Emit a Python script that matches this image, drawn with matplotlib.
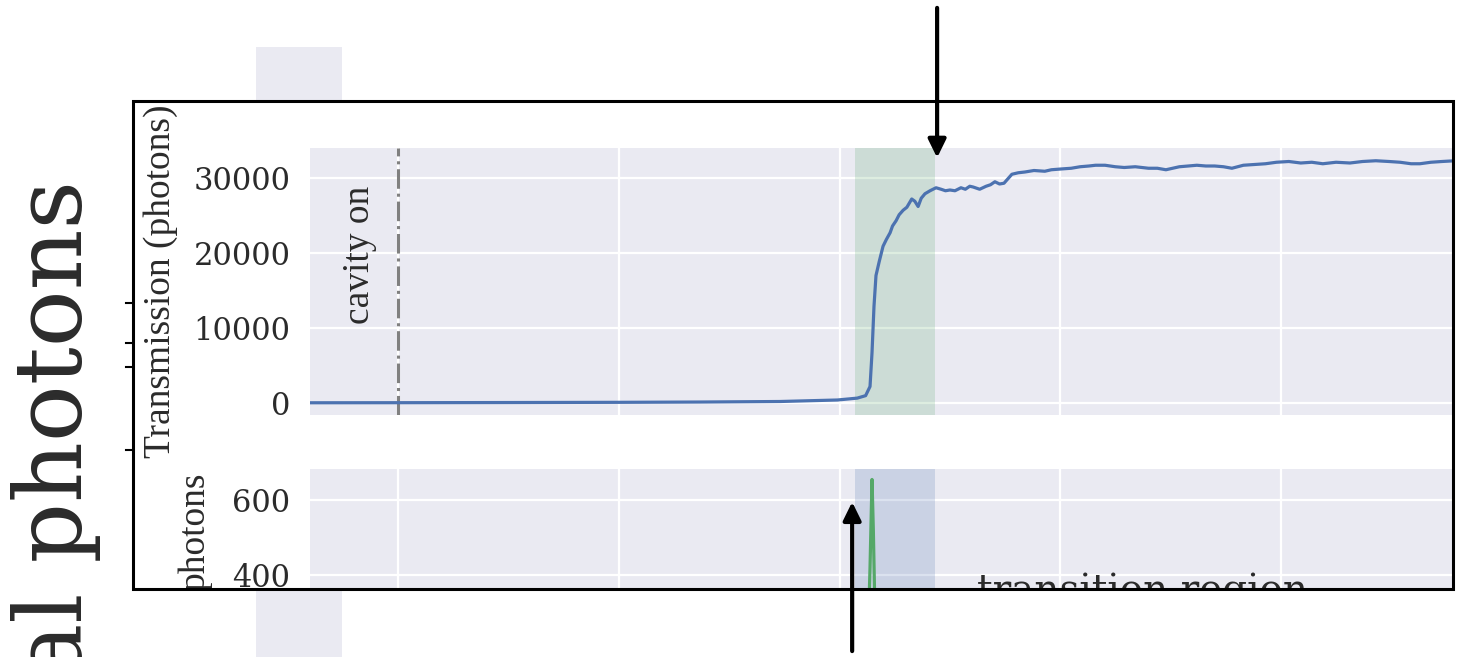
import matplotlib
matplotlib.use("Agg")
import matplotlib.pyplot as plt
from matplotlib.patches import Rectangle
from matplotlib.transforms import Bbox, TransformedBbox

# transmission trace, x in grid units (cavity switched on at 0)
time = [-0.40, 0.00, 0.46, 1.00, 1.37, 1.73, 1.99, 2.08, 2.118, 2.138, 2.147, 2.156,
        2.165, 2.180, 2.197, 2.212, 2.229, 2.240, 2.256, 2.270, 2.288, 2.305, 2.327,
        2.341, 2.356, 2.370, 2.387, 2.410, 2.437, 2.46, 2.48, 2.50, 2.523, 2.55, 2.57,
        2.59, 2.605, 2.635, 2.664, 2.684, 2.704, 2.725, 2.745, 2.763, 2.781, 2.81, 2.84,
        2.881, 2.93, 2.96, 3.003, 3.05, 3.09, 3.13, 3.16, 3.203, 3.25, 3.29, 3.34, 3.40,
        3.44, 3.479, 3.54, 3.58, 3.619, 3.66, 3.70, 3.74, 3.778, 3.83, 3.88, 3.93, 3.98,
        4.036, 4.09, 4.14, 4.19, 4.25, 4.313, 4.37, 4.43, 4.49, 4.54, 4.59, 4.63, 4.68,
        4.73, 4.79]
transmission = [30, 40, 60, 90, 130, 200, 400, 650, 980, 2200, 6700, 12900,
                17000, 18900, 20900, 21800, 22700, 23600, 24300, 25100, 25700, 26100, 27200,
                26900, 26200, 27300, 27900, 28300, 28700, 28500, 28300, 28400, 28300, 28700, 28500,
                28900, 28800, 28500, 28900, 29100, 29500, 29200, 29300, 29900, 30500, 30700, 30800,
                31000, 30900, 31100, 31200, 31300, 31500, 31600, 31700, 31700, 31500, 31400, 31500, 31300,
                31300, 31100, 31500, 31600, 31700, 31600, 31600, 31500, 31300, 31700, 31800, 31900, 32100,
                32200, 32000, 32100, 31900, 32100, 32000, 32200, 32300, 32200, 32100, 31900, 31900, 32100,
                32200, 32300]

# spike in the lower panel
spike_time = [2.10, 2.125, 2.138, 2.147, 2.153, 2.162, 2.175, 2.20]
spike_photons = [0, 150, 420, 655, 520, 250, 80, 0]

cavity_on = 0.0
transition = (2.07, 2.433)
x_ticks = [0, 1, 2, 3, 4]
top_ticks = [0, 10000, 20000, 30000]
bottom_ticks = [400, 600]

BG = "#eaeaf2"
BLUE = "#4c72b0"
GREEN = "#55a868"
W, H = 1463, 657

fig = plt.figure(figsize=(W / 100, H / 100), dpi=100)


def fx(px):
    return px / W


def fy(py):
    return 1 - py / H


# background layer in pixel units
bg = fig.add_axes([0, 0, 1, 1])
bg.set_xlim(0, W)
bg.set_ylim(H, 0)
bg.axis("off")
bg.add_patch(Rectangle((256, 47), 86, 620, facecolor=BG, lw=0))
bg.text(82, 180, "al photons", rotation=90, rotation_mode="anchor", ha="right",
        va="baseline", fontsize=68, family="DejaVu Serif", color="#2b2b2b")
for yy in [303, 343, 367, 450]:
    bg.plot([126, 134], [yy, yy], color="black", lw=1.5)
bg.add_patch(Rectangle((133, 101), 1320, 488, facecolor="white", edgecolor="none", zorder=5))

box_bb = TransformedBbox(Bbox.from_extents(fx(133), fy(589), fx(1453), fy(101)), fig.transFigure)


def style(ax, yticks):
    ax.set_facecolor(BG)
    for s in ax.spines.values():
        s.set_visible(False)
    ax.grid(True, color="white", lw=1.6)
    ax.set_axisbelow(True)
    ax.set_xticks(x_ticks)
    ax.set_yticks(yticks)
    ax.tick_params(length=0, pad=14, labelbottom=False, labelsize=22, labelcolor="#2b2b2b")
    for lbl in ax.get_yticklabels():
        lbl.set_family("DejaVu Serif")
        lbl.set_clip_box(box_bb)


# top panel: transmission
ax_top = fig.add_axes([fx(310), fy(415), fx(1453) - fx(310), fy(148) - fy(415)])
style(ax_top, top_ticks)
ax_top.set_xlim(-0.40, 4.78)
ax_top.set_ylim(-1600, 34000)
ax_top.axvspan(*transition, color=GREEN, alpha=0.2, lw=0)
ax_top.axvline(cavity_on, color="gray", ls="-.", lw=2.2)
ax_top.plot(time, transmission, color=BLUE, lw=2.3)
ax_top.annotate("cavity on", xy=(cavity_on, 19700), xytext=(-15, 0), textcoords="offset points",
                rotation=90, ha="right", va="center", fontsize=27, family="Liberation Serif",
                color="#2b2b2b")
ax_top.set_ylabel("Transmission (photons)", fontsize=27, family="Liberation Serif", color="#2b2b2b")
ax_top.yaxis.set_label_coords(-0.1155, 0.5)
ax_top.yaxis.label.set_clip_box(box_bb)
ax_top.annotate("", xy=(transition[1] + 0.009, 32700), xytext=(transition[1] + 0.009, 0.988),
                textcoords=("data", "figure fraction"), annotation_clip=False,
                arrowprops=dict(arrowstyle="-|>,head_length=0.55,head_width=0.27", color="black",
                                lw=3, mutation_scale=20, shrinkA=0, shrinkB=0))

# bottom panel: photons (cut off by the frame)
ax_bot = fig.add_axes([fx(310), fy(589), fx(1453) - fx(310), fy(469) - fy(589)])
style(ax_bot, bottom_ticks)
ax_bot.set_xlim(-0.40, 4.78)
ax_bot.set_ylim(362.7, 683)
ax_bot.axvspan(*transition, color=BLUE, alpha=0.2, lw=0)
ax_bot.plot(spike_time, spike_photons, color=GREEN, lw=2.3)
ax_bot.text(3.375, 328, "transition region", ha="center", va="baseline", fontsize=28,
            family="DejaVu Serif", color="#2b2b2b", clip_on=True)
ax_bot.set_ylabel("photons", fontsize=27, family="Liberation Serif", color="#2b2b2b")
ax_bot.yaxis.set_label_coords(-0.085, 0.48)
ax_bot.yaxis.label.set_clip_box(box_bb)
ax_bot.annotate("", xy=(transition[0] - 0.013, 595), xytext=(transition[0] - 0.013, 0.009),
                textcoords=("data", "figure fraction"), annotation_clip=False,
                arrowprops=dict(arrowstyle="-|>,head_length=0.55,head_width=0.27", color="black",
                                lw=3, mutation_scale=20, shrinkA=0, shrinkB=0))

# frame around the panel
fig.add_artist(Rectangle((fx(133), fy(589)), fx(1453) - fx(133), fy(101) - fy(589),
                         transform=fig.transFigure, fill=False, edgecolor="black", lw=2.2, zorder=10))

fig.savefig("out.png", dpi=100)
